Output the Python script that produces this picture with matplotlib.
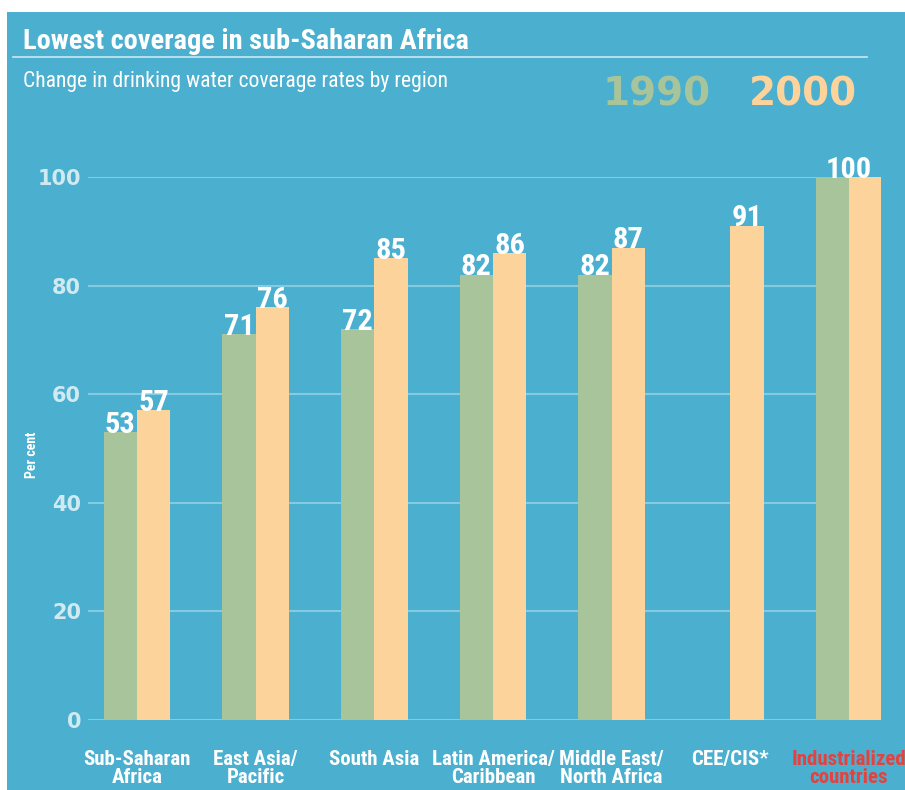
import matplotlib.pyplot as plt
from matplotlib import font_manager
from matplotlib.patches import Rectangle
from matplotlib.lines import Line2D

regions = ['Sub-Saharan\nAfrica', 'East Asia/\nPacific', 'South Asia', 'Latin America/\nCaribbean',
           'Middle East/\nNorth Africa', 'CEE/CIS*', 'Industrialized\ncountries']
cov_1990 = [53, 71, 72, 82, 82, None, 100]
cov_2000 = [57, 76, 85, 86, 87, 91, 100]
yticks = [0, 20, 40, 60, 80, 100]

BG = '#4BAFCF'
GREEN = '#A8C49A'
ORANGE = '#FDD39C'
GRID = '#84CAE0'
TICK = '#D0EAF2'
RED = '#E5413E'

# pick a narrow face if one is installed
names = {f.name for f in font_manager.fontManager.ttflist}
stretch = 'normal'
NARROW = None
for cand in ['Roboto Condensed', 'Liberation Sans Narrow', 'Open Sans Condensed',
             'Noto Sans Condensed', 'Lato Condensed', 'Arial Narrow']:
    if cand in names:
        NARROW = cand
        break
if NARROW is None:
    cond = [f for f in font_manager.fontManager.ttflist
            if f.name == 'DejaVu Sans' and 'ondensed' in str(f.stretch) + f.fname]
    NARROW = 'DejaVu Sans'
    if cond:
        stretch = 'condensed'
    elif 'Roboto' in names:
        NARROW = 'Roboto'

fig = plt.figure(figsize=(9.05, 7.90), dpi=100)
fig.patch.set_facecolor('white')
fig.patches.append(Rectangle((7/905, 0), 1, (790-12)/790, transform=fig.transFigure,
                             facecolor=BG, edgecolor='none', zorder=-10))
renderer = fig.canvas.get_renderer()


def fit(t, target):
    wpx = t.get_window_extent(renderer=renderer).width
    t.set_fontsize(t.get_fontsize() * target / wpx)
    return t.get_fontsize()


t = fig.text(23/905, 0.947, 'Lowest coverage in sub-Saharan Africa', color='white',
             fontsize=18, fontweight='bold', family=NARROW, stretch=stretch,
             va='center', ha='left')
fit(t, 445)
fig.lines.append(Line2D([13/905, 867/905], [(790-57)/790]*2, transform=fig.transFigure,
                        color='#CBE8F1', lw=1.2))
t = fig.text(23/905, 0.897, 'Change in drinking water coverage rates by region', color='white',
             fontsize=12.5, family=NARROW, stretch=stretch, va='center', ha='left')
fit(t, 427)
fig.text(657/905, 0.881, '1990', color=GREEN, fontsize=28, fontweight='bold',
         va='center', ha='center')
fig.text(803/905, 0.881, '2000', color=ORANGE, fontsize=28, fontweight='bold',
         va='center', ha='center')

ax = fig.add_axes([88/905, 70/790, (881-88)/905, (720-177)/790])
ax.set_facecolor('none')
ax.set_xlim(-0.413, 6.27)
ax.set_ylim(0, 100)

probe = ax.text(0, 0, '100', fontsize=21, fontweight='bold', family=NARROW, stretch=stretch)
vsize = fit(probe, 46)
probe.remove()

w = 0.28
x = list(range(len(regions)))
for i in x:
    a, b = cov_1990[i], cov_2000[i]
    if a is not None:
        ax.bar(i - w/2, a, width=w, color=GREEN, zorder=3)
    ax.bar(i + w/2, b, width=w, color=ORANGE, zorder=3)
    kw = dict(ha='center', va='baseline', color='white', fontsize=vsize,
              fontweight='bold', family=NARROW, stretch=stretch, zorder=4)
    if a == b:
        ax.text(i, b - 0.1, str(b), **kw)
    else:
        if a is not None:
            ax.text(i - w/2, a - 0.1, str(a), **kw)
        ax.text(i + w/2, b - 0.1, str(b), **kw)

ax.set_yticks(yticks)
ax.set_yticklabels([str(t) for t in yticks], color=TICK, fontsize=15, fontweight='bold')
ax.tick_params(axis='y', length=0, pad=5)
ax.set_xticks([])
for v in yticks:
    ax.axhline(v, color=GRID, lw=1.5, zorder=1)
for s in ax.spines.values():
    s.set_visible(False)

probe = ax.text(0, 0, 'Latin America/', fontsize=14, fontweight='bold',
                family=NARROW, stretch=stretch)
csize = min(fit(probe, 130), 15)
probe.remove()
for i, lab in enumerate(regions):
    ax.text(i, -5.5, lab, ha='center', va='top', color=RED if i == 6 else 'white',
            fontsize=csize, fontweight='bold', family=NARROW, stretch=stretch,
            linespacing=0.95)

fig.text(32/905, 0.424, 'Per cent', rotation=90, color='white', fontsize=10,
         fontweight='bold', family=NARROW, stretch=stretch, va='center', ha='center')

fig.savefig('out.png', dpi=100, facecolor=fig.get_facecolor())
